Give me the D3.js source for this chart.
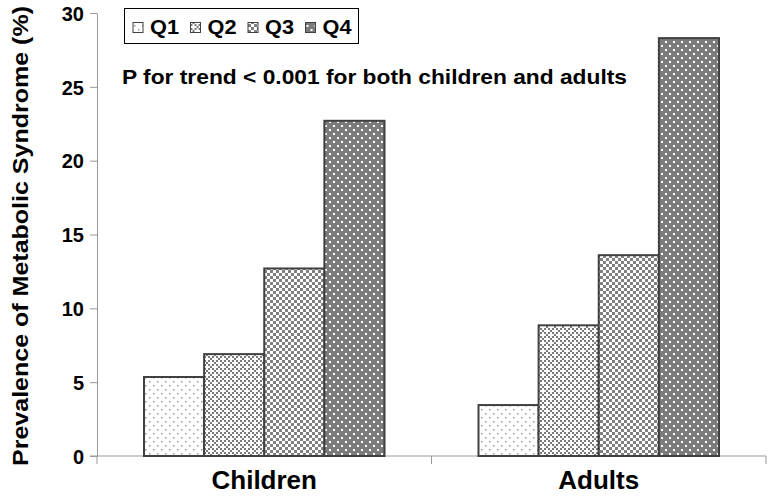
<!DOCTYPE html>
<html><head><meta charset="utf-8">
<script src="https://cdn.jsdelivr.net/npm/d3@7"></script>
<style>body{margin:0;background:#fff}svg{display:block}text{font-family:"Liberation Sans",Arial,sans-serif;font-weight:bold}</style>
</head><body><svg id="c" width="768" height="497"></svg>
<script>
const categories = ["Children", "Adults"];
const quartiles = ["Q1", "Q2", "Q3", "Q4"];
const children = [5.35, 6.9, 12.7, 22.7];
const adults = [3.45, 8.85, 13.6, 28.3];
const yTicks = [0, 5, 10, 15, 20, 25, 30];
const yTitle = "Prevalence of Metabolic Syndrome (%)";
const note = "P for trend < 0.001 for both children and adults";

const svg = d3.select("#c");
const defs = svg.append("defs");
function pat(id, w, h, build) {
  const p = defs.append("pattern").attr("id", id).attr("patternUnits", "userSpaceOnUse").attr("width", w).attr("height", h);
  build(p);
}
pat("p1", 8, 8, p => {
  p.append("rect").attr("width", 8).attr("height", 8).attr("fill", "#fff");
  p.append("rect").attr("x", 1).attr("y", 1).attr("width", 1.5).attr("height", 1.5).attr("fill", "#999");
  p.append("rect").attr("x", 5).attr("y", 5).attr("width", 1.5).attr("height", 1.5).attr("fill", "#999");
});
pat("p2", 8, 8, p => {
  p.append("rect").attr("width", 8).attr("height", 8).attr("fill", "#fff");
  for (let i = 0; i < 4; i++) for (let j = 0; j < 4; j++) if ((i + j) % 2 === 0)
    p.append("rect").attr("x", i * 2).attr("y", j * 2).attr("width", 2).attr("height", 2).attr("fill", "#7a7a7a");
  p.append("rect").attr("x", 2).attr("y", 2).attr("width", 2).attr("height", 2).attr("fill", "#fff");
  p.append("rect").attr("x", 6).attr("y", 6).attr("width", 2).attr("height", 2).attr("fill", "#fff");
});
pat("p3", 6, 6, p => {
  p.append("rect").attr("width", 6).attr("height", 6).attr("fill", "#fff");
  p.append("rect").attr("width", 3).attr("height", 3).attr("fill", "#808080");
  p.append("rect").attr("x", 3).attr("y", 3).attr("width", 3).attr("height", 3).attr("fill", "#808080");
});
pat("p4", 8, 8, p => {
  p.append("rect").attr("width", 8).attr("height", 8).attr("fill", "#7c7c7c");
  p.append("rect").attr("x", 1).attr("y", 1).attr("width", 2).attr("height", 2).attr("fill", "#fff");
  p.append("rect").attr("x", 5).attr("y", 5).attr("width", 2).attr("height", 2).attr("fill", "#fff");
});
const fills = ["url(#p1)", "url(#p2)", "url(#p3)", "url(#p4)"];

const x0 = d3.scaleBand().domain(categories).range([97, 766]).paddingInner(0).paddingOuter(0);
const x1 = d3.scaleBand().domain(quartiles).range([47, x0.bandwidth() - 47]);
const y = d3.scaleLinear().domain([0, 30]).range([456, 13]);

// y axis
const ya = svg.append("g").attr("transform", "translate(97,0)")
  .call(d3.axisLeft(y).tickValues(yTicks).tickSize(7).tickSizeOuter(0).tickPadding(6));
ya.select(".domain").attr("stroke", "#999");
ya.selectAll(".tick line").attr("stroke", "#999");
ya.selectAll(".tick text").attr("font-size", 20).attr("fill", "#000").attr("font-family", "Liberation Sans, Arial, sans-serif").attr("dy", "0.36em");

// x axis
const xa = svg.append("g").attr("transform", "translate(0,456)");
xa.append("line").attr("x1", 90).attr("x2", 766).attr("stroke", "#999");
const bounds = [97, ...categories.map(c => x0(c) + x0.bandwidth())];
xa.selectAll(".xt").data(bounds).join("line").attr("x1", d => d).attr("x2", d => d).attr("y1", 0).attr("y2", 8).attr("stroke", "#999");
xa.selectAll(".xl").data(categories).join("text")
  .attr("x", d => x0(d) + x0.bandwidth() / 2).attr("y", 33)
  .attr("text-anchor", "middle")
  .attr("font-size", 26).attr("fill", "#000").text(d => d);

// bars
const data = [children, adults];
categories.forEach((c, ci) => {
  svg.append("g").selectAll("rect").data(data[ci]).join("rect")
    .attr("x", (d, i) => x0(c) + x1(quartiles[i]))
    .attr("y", d => y(d))
    .attr("width", x1.bandwidth())
    .attr("height", d => y(0) - y(d))
    .attr("fill", (d, i) => fills[i])
    .attr("stroke", "#404040").attr("stroke-width", 2);
});

// y title
svg.append("text").attr("transform", "translate(28,236) rotate(-90)").attr("text-anchor", "middle")
  .attr("font-size", 22).attr("textLength", 460).attr("lengthAdjust", "spacingAndGlyphs")
  .attr("fill", "#000").text(yTitle);

// legend
svg.append("rect").attr("x", 124.5).attr("y", 8.5).attr("width", 234).attr("height", 35).attr("fill", "#fff").attr("stroke", "#000").attr("stroke-width", 1);
const lg = svg.append("g").selectAll("g").data(quartiles).join("g")
  .attr("transform", (d, i) => `translate(${133 + i * 57.5},0)`);
lg.append("rect").attr("x", 0).attr("y", 22.5).attr("width", 10).attr("height", 10)
  .attr("fill", (d, i) => fills[i]).attr("stroke", "#404040").attr("stroke-width", 1);
lg.append("text").attr("x", 17).attr("y", 34).attr("font-size", 21).attr("textLength", 29).attr("lengthAdjust", "spacingAndGlyphs")
  .attr("fill", "#000").text(d => d);

// note
svg.append("text").attr("x", 122).attr("y", 84).attr("font-size", 21).attr("textLength", 505).attr("lengthAdjust", "spacingAndGlyphs")
  .attr("fill", "#000").text(note);
</script></body></html>
